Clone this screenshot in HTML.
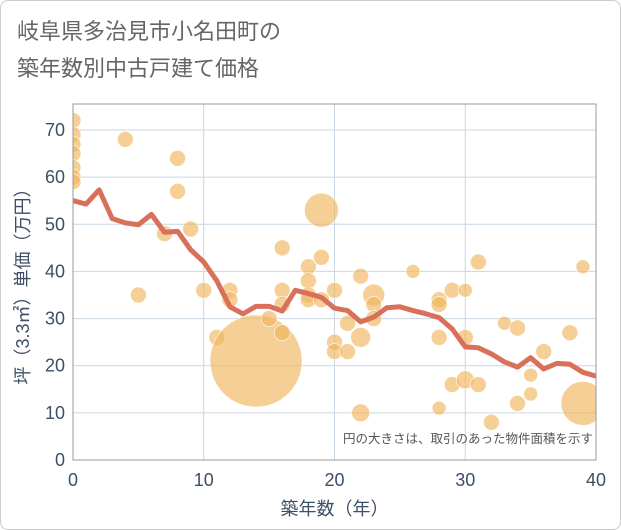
<!DOCTYPE html>
<html><head><meta charset="utf-8"><style>
body{margin:0;background:#fff;font-family:"Liberation Sans","Noto Sans CJK JP",sans-serif}
#wrap{position:relative;width:619px;height:528px;border:1px solid #ccc;border-radius:8px;overflow:hidden}
.title{position:absolute;left:16px;font-size:22px;color:#666}
</style></head><body>
<div id="wrap">
<div class="title" style="top:13px">岐阜県多治見市小名田町の</div>
<div class="title" style="top:50px">築年数別中古戸建て価格</div>
<svg id="chart" width="621" height="530" style="position:absolute;left:-1px;top:-1px"></svg>
</div>
<script>
const lineYears=[0,1,2,3,4,5,6,7,8,9,10,11,12,13,14,15,16,17,18,19,20,21,22,23,24,25,26,27,28,29,30,31,32,33,34,35,36,37,38,39,40];
const lineValues=[55,54.3,57.3,51.2,50.3,49.9,52.1,48.3,48.5,44.6,42,38,32.5,31,32.6,32.6,31.6,36,35.3,34.5,32.2,31.7,29.3,30.3,32.3,32.5,31.7,31,30.2,27.8,24,23.8,22.5,20.8,19.7,21.7,19.3,20.5,20.3,18.6,17.8];
const ptYears=[0,0,0,0,0,0,0,4,5,7,8,8,9,10,11,12,12,14,15,16,16,16,16,18,18,18,18,19,19,19,20,20,20,21,21,22,22,22,23,23,23,26,28,28,28,28,29,29,30,30,30,31,31,32,33,34,34,35,35,36,38,39,39];
const ptValues=[72,69,67,65,62,60,59,68,35,48,64,57,49,36,26,36,34,21,30,45,36,33,27,41,38,35,34,53,43,34,36,25,23,29,23,39,26,10,35,33,30,40,34,33,26,11,36,16,36,26,17,42,16,8,29,28,12,18,14,23,27,41,12];
const ptSizes=[8,8,8,8,8,8,8,8,8,8,8,8,8,8,8,8,8,46,8,8,8,8,8,8,8,8,8,17,8,8,8,8,8,8,8,8,10,9,11,8,8,7,8,8,8,7,8,8,7,8,9,8,8,8,7,8,8,7,7,8,8,7,22];
const xTicks=[0,10,20,30,40];
const yTicks=[0,10,20,30,40,50,60,70];
const NS="http://www.w3.org/2000/svg";
const svg=document.getElementById('chart');
const L=73,R=596,T=104,B=460;
const xs=v=>L+(R-L)*v/40;
const ys=v=>B-(B-130)*v/70;
function mk(tag,at,parent){const e=document.createElementNS(NS,tag);for(const k in at)e.setAttribute(k,at[k]);(parent||svg).appendChild(e);return e;}
const clip=mk('clipPath',{id:'pc'});mk('rect',{x:L,y:T,width:R-L,height:B-T},clip);
yTicks.forEach(t=>{
 const g=mk('line',{x1:L,x2:R,y1:ys(t),y2:ys(t),stroke:'#c9d6e3','stroke-width':1});
 
 
 const tx=mk('text',{x:L-8,y:ys(t)+6,'text-anchor':'end','font-size':18,fill:'#3d4f66'});tx.textContent=t;
 
 
});
xTicks.forEach(t=>{
 const g=mk('line',{x1:xs(t),x2:xs(t),y1:T,y2:B,stroke:'#c9d6e3','stroke-width':1});
 
 
 const tx=mk('text',{x:xs(t),y:B+26,'text-anchor':'middle','font-size':18,fill:'#3d4f66'});tx.textContent=t;
 
 
});
const pg=mk('g',{'clip-path':'url(#pc)'});
ptYears.forEach((y,i)=>{
 const c=mk('circle',{cx:xs(y),cy:ys(ptValues[i]),r:ptSizes[i],fill:'#f0b65c','fill-opacity':0.65,stroke:'#fff','stroke-width':0.6},pg);
 
 
});
const ln=mk('polyline',{points:lineYears.map((y,i)=>xs(y)+','+ys(lineValues[i])).join(' '),fill:'none',stroke:'#d9705a','stroke-width':5,'stroke-linejoin':'round'},pg);


const fr=mk('rect',{x:L,y:T,width:R-L,height:B-T,fill:'none',stroke:'#999','stroke-width':1});


const note=mk('text',{x:R-3,y:443,'text-anchor':'end','font-size':12.5,fill:'#555'});note.textContent='円の大きさは、取引のあった物件面積を示す';


const xl=mk('text',{x:(L+R)/2,y:515,'text-anchor':'middle','font-size':18,fill:'#3d4f66'});xl.textContent='築年数（年）';


const yl=mk('text',{x:0,y:0,'text-anchor':'middle','font-size':18,fill:'#3d4f66',transform:'translate(29,'+(T+B)/2+') rotate(-90)'});yl.textContent='坪（3.3㎡）単価（万円）';


</script>
</body></html>
